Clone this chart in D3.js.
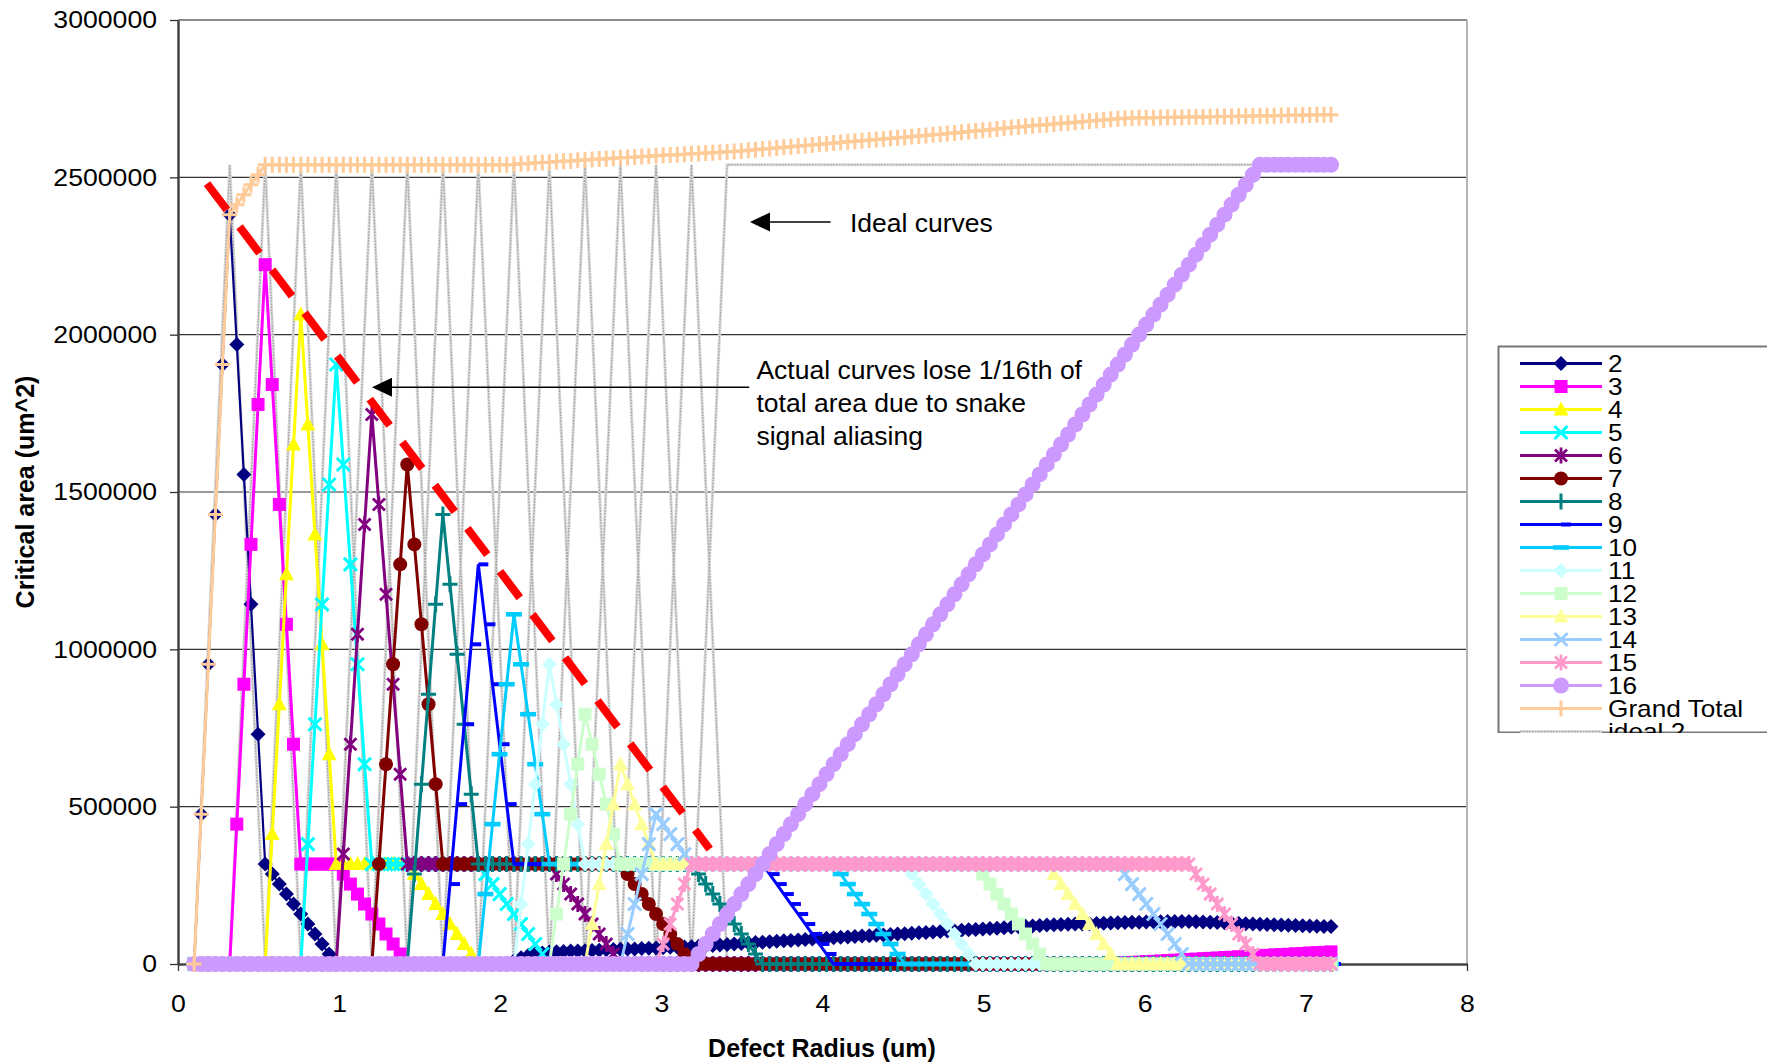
<!DOCTYPE html>
<html>
<head>
<meta charset="utf-8">
<script src="https://cdn.jsdelivr.net/npm/d3@7/dist/d3.min.js"></script>
<style>
  body { margin: 0; background: #fff; }
  svg { display: block; font-family: "Liberation Sans", Arial, sans-serif; }
</style>
</head>
<body>
<div id="chart"></div>
<script>
// Defect radius (um) for every sample point
const radius = [
  0.100, 0.144, 0.188, 0.232, 0.276, 0.321, 0.365, 0.409, 0.453, 0.497,
  0.541, 0.585, 0.629, 0.673, 0.717, 0.762, 0.806, 0.850, 0.894, 0.938,
  0.982, 1.026, 1.070, 1.114, 1.158, 1.203, 1.247, 1.291, 1.335, 1.379,
  1.423, 1.467, 1.511, 1.555, 1.599, 1.644, 1.688, 1.732, 1.776, 1.820,
  1.864, 1.908, 1.952, 1.996, 2.040, 2.085, 2.129, 2.173, 2.217, 2.261,
  2.305, 2.349, 2.393, 2.437, 2.481, 2.526, 2.570, 2.614, 2.658, 2.702,
  2.746, 2.790, 2.834, 2.878, 2.922, 2.967, 3.011, 3.055, 3.099, 3.143,
  3.187, 3.231, 3.275, 3.319, 3.363, 3.408, 3.452, 3.496, 3.540, 3.584,
  3.628, 3.672, 3.716, 3.760, 3.804, 3.849, 3.893, 3.937, 3.981, 4.025,
  4.069, 4.113, 4.157, 4.201, 4.245, 4.290, 4.334, 4.378, 4.422, 4.466,
  4.510, 4.554, 4.598, 4.642, 4.686, 4.731, 4.775, 4.819, 4.863, 4.907,
  4.951, 4.995, 5.039, 5.083, 5.127, 5.172, 5.216, 5.260, 5.304, 5.348,
  5.392, 5.436, 5.480, 5.524, 5.568, 5.613, 5.657, 5.701, 5.745, 5.789,
  5.833, 5.877, 5.921, 5.965, 6.009, 6.054, 6.098, 6.142, 6.186, 6.230,
  6.274, 6.318, 6.362, 6.406, 6.450, 6.495, 6.539, 6.583, 6.627, 6.671,
  6.715, 6.759, 6.803, 6.847, 6.891, 6.936, 6.980, 7.024, 7.068, 7.112,
  7.156
];

// Critical area (um^2) per series, one row = 10 samples
const s2 = [
  0, 476250, 952500, 1428750, 1905000, 2381250, 1968500, 1555750, 1143000, 730250,
  317500, 285750, 254000, 222250, 190500, 158750, 127000, 95250, 63500, 31750,
  0, 0, 0, 0, 0, 0, 0, 0, 0, 0,
  0, 0, 0, 0, 0, 0, 0, 0, 0, 0,
  0, 0, 0, 0, 0, 10000, 20000, 27000, 32000, 35000,
  38000, 39000, 40000, 41000, 41500, 42000, 43000, 44000, 45000, 46000,
  47000, 47500, 48000, 49000, 50000, 51000, 52000, 53000, 53500, 54000,
  55000, 56500, 58000, 59000, 60500, 62000, 63500, 65000, 66500, 68000,
  69000, 70500, 72000, 73500, 75000, 76500, 78000, 79500, 80500, 82000,
  83500, 85000, 86000, 87500, 89000, 90000, 91500, 92500, 94000, 95000,
  96500, 98000, 99000, 100500, 101500, 103000, 104500, 106000, 107000, 108500,
  110000, 111500, 113000, 114000, 115500, 117000, 118500, 120000, 121000, 122500,
  124000, 124500, 125500, 126000, 127000, 127500, 128000, 129000, 129500, 130000,
  131000, 131500, 132500, 133000, 133500, 134000, 134500, 135000, 135000, 135000,
  135000, 134000, 133500, 132500, 131500, 131000, 130000, 129000, 128000, 127500,
  126500, 125500, 125000, 124000, 123000, 122500, 121500, 121000, 120000, 119500,
  119000
];
const s3 = [
  0, 0, 0, 0, 0, 0, 444500, 889000, 1333500, 1778000,
  2222500, 1841500, 1460500, 1079500, 698500, 317500, 317500, 317500, 317500, 317500,
  317500, 285750, 254000, 222250, 190500, 158750, 127000, 95250, 63500, 31750,
  0, 0, 0, 0, 0, 0, 0, 0, 0, 0,
  0, 0, 0, 0, 0, 0, 0, 0, 0, 0,
  0, 0, 0, 0, 0, 0, 0, 0, 0, 0,
  0, 0, 0, 0, 0, 0, 0, 0, 0, 0,
  0, 0, 0, 0, 0, 0, 0, 0, 0, 0,
  0, 0, 0, 0, 0, 0, 0, 0, 0, 0,
  0, 0, 0, 0, 0, 0, 0, 0, 0, 0,
  0, 0, 0, 0, 0, 0, 0, 0, 0, 0,
  0, 0, 0, 0, 0, 0, 0, 0, 0, 0,
  0, 0, 0, 0, 0, 0, 0, 0, 0, 1000,
  2500, 3500, 5000, 6000, 7500, 8500, 9500, 11000, 12000, 13000,
  14500, 15500, 17000, 18000, 19000, 20500, 21500, 23000, 24000, 25000,
  26500, 27500, 29000, 30000, 31000, 32500, 33500, 35000, 36000, 37000,
  38500
];
const s4 = [
  0, 0, 0, 0, 0, 0, 0, 0, 0, 0,
  0, 412750, 825500, 1238250, 1651000, 2063750, 1714500, 1365250, 1016000, 666750,
  317500, 317500, 317500, 317500, 317500, 317500, 317500, 317500, 317500, 317500,
  317500, 285750, 254000, 222250, 190500, 158750, 127000, 95250, 63500, 31750,
  0, 0, 0, 0, 0, 0, 0, 0, 0, 0,
  0, 0, 0, 0, 0, 0, 0, 0, 0, 0,
  0, 0, 0, 0, 0, 0, 0, 0, 0, 0,
  0, 0, 0, 0, 0, 0, 0, 0, 0, 0,
  0, 0, 0, 0, 0, 0, 0, 0, 0, 0,
  0, 0, 0, 0, 0, 0, 0, 0, 0, 0,
  0, 0, 0, 0, 0, 0, 0, 0, 0, 0,
  0, 0, 0, 0, 0, 0, 0, 0, 0, 0,
  0, 0, 0, 0, 0, 0, 0, 0, 0, 0,
  0, 0, 0, 0, 0, 0, 0, 0, 0, 0,
  0, 0, 0, 0, 0, 0, 0, 0, 0, 0,
  0, 0, 0, 0, 0, 0, 0, 0, 0, 0,
  0
];
const s5 = [
  0, 0, 0, 0, 0, 0, 0, 0, 0, 0,
  0, 0, 0, 0, 0, 0, 381000, 762000, 1143000, 1524000,
  1905000, 1587500, 1270000, 952500, 635000, 317500, 317500, 317500, 317500, 317500,
  317500, 317500, 317500, 317500, 317500, 317500, 317500, 317500, 317500, 317500,
  317500, 285750, 254000, 222250, 190500, 158750, 127000, 95250, 63500, 31750,
  0, 0, 0, 0, 0, 0, 0, 0, 0, 0,
  0, 0, 0, 0, 0, 0, 0, 0, 0, 0,
  0, 0, 0, 0, 0, 0, 0, 0, 0, 0,
  0, 0, 0, 0, 0, 0, 0, 0, 0, 0,
  0, 0, 0, 0, 0, 0, 0, 0, 0, 0,
  0, 0, 0, 0, 0, 0, 0, 0, 0, 0,
  0, 0, 0, 0, 0, 0, 0, 0, 0, 0,
  0, 0, 0, 0, 0, 0, 0, 0, 0, 0,
  0, 0, 0, 0, 0, 0, 0, 0, 0, 0,
  0, 0, 0, 0, 0, 0, 0, 0, 0, 0,
  0, 0, 0, 0, 0, 0, 0, 0, 0, 0,
  0
];
const s6 = [
  0, 0, 0, 0, 0, 0, 0, 0, 0, 0,
  0, 0, 0, 0, 0, 0, 0, 0, 0, 0,
  0, 349250, 698500, 1047750, 1397000, 1746250, 1460500, 1174750, 889000, 603250,
  317500, 317500, 317500, 317500, 317500, 317500, 317500, 317500, 317500, 317500,
  317500, 317500, 317500, 317500, 317500, 317500, 317500, 317500, 317500, 317500,
  317500, 285750, 254000, 222250, 190500, 158750, 127000, 95250, 63500, 31750,
  0, 0, 0, 0, 0, 0, 0, 0, 0, 0,
  0, 0, 0, 0, 0, 0, 0, 0, 0, 0,
  0, 0, 0, 0, 0, 0, 0, 0, 0, 0,
  0, 0, 0, 0, 0, 0, 0, 0, 0, 0,
  0, 0, 0, 0, 0, 0, 0, 0, 0, 0,
  0, 0, 0, 0, 0, 0, 0, 0, 0, 0,
  0, 0, 0, 0, 0, 0, 0, 0, 0, 0,
  0, 0, 0, 0, 0, 0, 0, 0, 0, 0,
  0, 0, 0, 0, 0, 0, 0, 0, 0, 0,
  0, 0, 0, 0, 0, 0, 0, 0, 0, 0,
  0
];
const s7 = [
  0, 0, 0, 0, 0, 0, 0, 0, 0, 0,
  0, 0, 0, 0, 0, 0, 0, 0, 0, 0,
  0, 0, 0, 0, 0, 0, 317500, 635000, 952500, 1270000,
  1587500, 1333500, 1079500, 825500, 571500, 317500, 317500, 317500, 317500, 317500,
  317500, 317500, 317500, 317500, 317500, 317500, 317500, 317500, 317500, 317500,
  317500, 317500, 317500, 317500, 317500, 317500, 317500, 317500, 317500, 317500,
  317500, 285750, 254000, 222250, 190500, 158750, 127000, 95250, 63500, 31750,
  0, 0, 0, 0, 0, 0, 0, 0, 0, 0,
  0, 0, 0, 0, 0, 0, 0, 0, 0, 0,
  0, 0, 0, 0, 0, 0, 0, 0, 0, 0,
  0, 0, 0, 0, 0, 0, 0, 0, 0, 0,
  0, 0, 0, 0, 0, 0, 0, 0, 0, 0,
  0, 0, 0, 0, 0, 0, 0, 0, 0, 0,
  0, 0, 0, 0, 0, 0, 0, 0, 0, 0,
  0, 0, 0, 0, 0, 0, 0, 0, 0, 0,
  0, 0, 0, 0, 0, 0, 0, 0, 0, 0,
  0
];
const s8 = [
  0, 0, 0, 0, 0, 0, 0, 0, 0, 0,
  0, 0, 0, 0, 0, 0, 0, 0, 0, 0,
  0, 0, 0, 0, 0, 0, 0, 0, 0, 0,
  0, 285750, 571500, 857250, 1143000, 1428750, 1206500, 984250, 762000, 539750,
  317500, 317500, 317500, 317500, 317500, 317500, 317500, 317500, 317500, 317500,
  317500, 317500, 317500, 317500, 317500, 317500, 317500, 317500, 317500, 317500,
  317500, 317500, 317500, 317500, 317500, 317500, 317500, 317500, 317500, 317500,
  317500, 285750, 254000, 222250, 190500, 158750, 127000, 95250, 63500, 31750,
  0, 0, 0, 0, 0, 0, 0, 0, 0, 0,
  0, 0, 0, 0, 0, 0, 0, 0, 0, 0,
  0, 0, 0, 0, 0, 0, 0, 0, 0, 0,
  0, 0, 0, 0, 0, 0, 0, 0, 0, 0,
  0, 0, 0, 0, 0, 0, 0, 0, 0, 0,
  0, 0, 0, 0, 0, 0, 0, 0, 0, 0,
  0, 0, 0, 0, 0, 0, 0, 0, 0, 0,
  0, 0, 0, 0, 0, 0, 0, 0, 0, 0,
  0
];
const s9 = [
  0, 0, 0, 0, 0, 0, 0, 0, 0, 0,
  0, 0, 0, 0, 0, 0, 0, 0, 0, 0,
  0, 0, 0, 0, 0, 0, 0, 0, 0, 0,
  0, 0, 0, 0, 0, 0, 254000, 508000, 762000, 1016000,
  1270000, 1079500, 889000, 698500, 508000, 317500, 317500, 317500, 317500, 317500,
  317500, 317500, 317500, 317500, 317500, 317500, 317500, 317500, 317500, 317500,
  317500, 317500, 317500, 317500, 317500, 317500, 317500, 317500, 317500, 317500,
  317500, 317500, 317500, 317500, 317500, 317500, 317500, 317500, 317500, 317500,
  317500, 285750, 254000, 222250, 190500, 158750, 127000, 95250, 63500, 31750,
  0, 0, 0, 0, 0, 0, 0, 0, 0, 0,
  0, 0, 0, 0, 0, 0, 0, 0, 0, 0,
  0, 0, 0, 0, 0, 0, 0, 0, 0, 0,
  0, 0, 0, 0, 0, 0, 0, 0, 0, 0,
  0, 0, 0, 0, 0, 0, 0, 0, 0, 0,
  0, 0, 0, 0, 0, 0, 0, 0, 0, 0,
  0, 0, 0, 0, 0, 0, 0, 0, 0, 0,
  0
];
const s10 = [
  0, 0, 0, 0, 0, 0, 0, 0, 0, 0,
  0, 0, 0, 0, 0, 0, 0, 0, 0, 0,
  0, 0, 0, 0, 0, 0, 0, 0, 0, 0,
  0, 0, 0, 0, 0, 0, 0, 0, 0, 0,
  0, 222250, 444500, 666750, 889000, 1111250, 952500, 793750, 635000, 476250,
  317500, 317500, 317500, 317500, 317500, 317500, 317500, 317500, 317500, 317500,
  317500, 317500, 317500, 317500, 317500, 317500, 317500, 317500, 317500, 317500,
  317500, 317500, 317500, 317500, 317500, 317500, 317500, 317500, 317500, 317500,
  317500, 317500, 317500, 317500, 317500, 317500, 317500, 317500, 317500, 317500,
  317500, 285750, 254000, 222250, 190500, 158750, 127000, 95250, 63500, 31750,
  0, 0, 0, 0, 0, 0, 0, 0, 0, 0,
  0, 0, 0, 0, 0, 0, 0, 0, 0, 0,
  0, 0, 0, 0, 0, 0, 0, 0, 0, 0,
  0, 0, 0, 0, 0, 0, 0, 0, 0, 0,
  0, 0, 0, 0, 0, 0, 0, 0, 0, 0,
  0, 0, 0, 0, 0, 0, 0, 0, 0, 0,
  0
];
const s11 = [
  0, 0, 0, 0, 0, 0, 0, 0, 0, 0,
  0, 0, 0, 0, 0, 0, 0, 0, 0, 0,
  0, 0, 0, 0, 0, 0, 0, 0, 0, 0,
  0, 0, 0, 0, 0, 0, 0, 0, 0, 0,
  0, 0, 0, 0, 0, 0, 190500, 381000, 571500, 762000,
  952500, 825500, 698500, 571500, 444500, 317500, 317500, 317500, 317500, 317500,
  317500, 317500, 317500, 317500, 317500, 317500, 317500, 317500, 317500, 317500,
  317500, 317500, 317500, 317500, 317500, 317500, 317500, 317500, 317500, 317500,
  317500, 317500, 317500, 317500, 317500, 317500, 317500, 317500, 317500, 317500,
  317500, 317500, 317500, 317500, 317500, 317500, 317500, 317500, 317500, 317500,
  317500, 285750, 254000, 222250, 190500, 158750, 127000, 95250, 63500, 31750,
  0, 0, 0, 0, 0, 0, 0, 0, 0, 0,
  0, 0, 0, 0, 0, 0, 0, 0, 0, 0,
  0, 0, 0, 0, 0, 0, 0, 0, 0, 0,
  0, 0, 0, 0, 0, 0, 0, 0, 0, 0,
  0, 0, 0, 0, 0, 0, 0, 0, 0, 0,
  0
];
const s12 = [
  0, 0, 0, 0, 0, 0, 0, 0, 0, 0,
  0, 0, 0, 0, 0, 0, 0, 0, 0, 0,
  0, 0, 0, 0, 0, 0, 0, 0, 0, 0,
  0, 0, 0, 0, 0, 0, 0, 0, 0, 0,
  0, 0, 0, 0, 0, 0, 0, 0, 0, 0,
  0, 158750, 317500, 476250, 635000, 793750, 698500, 603250, 508000, 412750,
  317500, 317500, 317500, 317500, 317500, 317500, 317500, 317500, 317500, 317500,
  317500, 317500, 317500, 317500, 317500, 317500, 317500, 317500, 317500, 317500,
  317500, 317500, 317500, 317500, 317500, 317500, 317500, 317500, 317500, 317500,
  317500, 317500, 317500, 317500, 317500, 317500, 317500, 317500, 317500, 317500,
  317500, 317500, 317500, 317500, 317500, 317500, 317500, 317500, 317500, 317500,
  317500, 285750, 254000, 222250, 190500, 158750, 127000, 95250, 63500, 31750,
  0, 0, 0, 0, 0, 0, 0, 0, 0, 0,
  0, 0, 0, 0, 0, 0, 0, 0, 0, 0,
  0, 0, 0, 0, 0, 0, 0, 0, 0, 0,
  0, 0, 0, 0, 0, 0, 0, 0, 0, 0,
  0
];
const s13 = [
  0, 0, 0, 0, 0, 0, 0, 0, 0, 0,
  0, 0, 0, 0, 0, 0, 0, 0, 0, 0,
  0, 0, 0, 0, 0, 0, 0, 0, 0, 0,
  0, 0, 0, 0, 0, 0, 0, 0, 0, 0,
  0, 0, 0, 0, 0, 0, 0, 0, 0, 0,
  0, 0, 0, 0, 0, 0, 127000, 254000, 381000, 508000,
  635000, 571500, 508000, 444500, 381000, 317500, 317500, 317500, 317500, 317500,
  317500, 317500, 317500, 317500, 317500, 317500, 317500, 317500, 317500, 317500,
  317500, 317500, 317500, 317500, 317500, 317500, 317500, 317500, 317500, 317500,
  317500, 317500, 317500, 317500, 317500, 317500, 317500, 317500, 317500, 317500,
  317500, 317500, 317500, 317500, 317500, 317500, 317500, 317500, 317500, 317500,
  317500, 317500, 317500, 317500, 317500, 317500, 317500, 317500, 317500, 317500,
  317500, 285750, 254000, 222250, 190500, 158750, 127000, 95250, 63500, 31750,
  0, 0, 0, 0, 0, 0, 0, 0, 0, 0,
  0, 0, 0, 0, 0, 0, 0, 0, 0, 0,
  0, 0, 0, 0, 0, 0, 0, 0, 0, 0,
  0
];
const s14 = [
  0, 0, 0, 0, 0, 0, 0, 0, 0, 0,
  0, 0, 0, 0, 0, 0, 0, 0, 0, 0,
  0, 0, 0, 0, 0, 0, 0, 0, 0, 0,
  0, 0, 0, 0, 0, 0, 0, 0, 0, 0,
  0, 0, 0, 0, 0, 0, 0, 0, 0, 0,
  0, 0, 0, 0, 0, 0, 0, 0, 0, 0,
  0, 95250, 190500, 285750, 381000, 476250, 444500, 412750, 381000, 349250,
  317500, 317500, 317500, 317500, 317500, 317500, 317500, 317500, 317500, 317500,
  317500, 317500, 317500, 317500, 317500, 317500, 317500, 317500, 317500, 317500,
  317500, 317500, 317500, 317500, 317500, 317500, 317500, 317500, 317500, 317500,
  317500, 317500, 317500, 317500, 317500, 317500, 317500, 317500, 317500, 317500,
  317500, 317500, 317500, 317500, 317500, 317500, 317500, 317500, 317500, 317500,
  317500, 317500, 317500, 317500, 317500, 317500, 317500, 317500, 317500, 317500,
  317500, 285750, 254000, 222250, 190500, 158750, 127000, 95250, 63500, 31750,
  0, 0, 0, 0, 0, 0, 0, 0, 0, 0,
  0, 0, 0, 0, 0, 0, 0, 0, 0, 0,
  0
];
const s15 = [
  0, 0, 0, 0, 0, 0, 0, 0, 0, 0,
  0, 0, 0, 0, 0, 0, 0, 0, 0, 0,
  0, 0, 0, 0, 0, 0, 0, 0, 0, 0,
  0, 0, 0, 0, 0, 0, 0, 0, 0, 0,
  0, 0, 0, 0, 0, 0, 0, 0, 0, 0,
  0, 0, 0, 0, 0, 0, 0, 0, 0, 0,
  0, 0, 0, 0, 0, 0, 63500, 127000, 190500, 254000,
  317500, 317500, 317500, 317500, 317500, 317500, 317500, 317500, 317500, 317500,
  317500, 317500, 317500, 317500, 317500, 317500, 317500, 317500, 317500, 317500,
  317500, 317500, 317500, 317500, 317500, 317500, 317500, 317500, 317500, 317500,
  317500, 317500, 317500, 317500, 317500, 317500, 317500, 317500, 317500, 317500,
  317500, 317500, 317500, 317500, 317500, 317500, 317500, 317500, 317500, 317500,
  317500, 317500, 317500, 317500, 317500, 317500, 317500, 317500, 317500, 317500,
  317500, 317500, 317500, 317500, 317500, 317500, 317500, 317500, 317500, 317500,
  317500, 285750, 254000, 222250, 190500, 158750, 127000, 95250, 63500, 31750,
  0, 0, 0, 0, 0, 0, 0, 0, 0, 0,
  0
];
const s16 = [
  0, 0, 0, 0, 0, 0, 0, 0, 0, 0,
  0, 0, 0, 0, 0, 0, 0, 0, 0, 0,
  0, 0, 0, 0, 0, 0, 0, 0, 0, 0,
  0, 0, 0, 0, 0, 0, 0, 0, 0, 0,
  0, 0, 0, 0, 0, 0, 0, 0, 0, 0,
  0, 0, 0, 0, 0, 0, 0, 0, 0, 0,
  0, 0, 0, 0, 0, 0, 0, 0, 0, 0,
  0, 31750, 63500, 95250, 127000, 158750, 190500, 222250, 254000, 285750,
  317500, 349250, 381000, 412750, 444500, 476250, 508000, 539750, 571500, 603250,
  635000, 666750, 698500, 730250, 762000, 793750, 825500, 857250, 889000, 920750,
  952500, 984250, 1016000, 1047750, 1079500, 1111250, 1143000, 1174750, 1206500, 1238250,
  1270000, 1301750, 1333500, 1365250, 1397000, 1428750, 1460500, 1492250, 1524000, 1555750,
  1587500, 1619250, 1651000, 1682750, 1714500, 1746250, 1778000, 1809750, 1841500, 1873250,
  1905000, 1936750, 1968500, 2000250, 2032000, 2063750, 2095500, 2127250, 2159000, 2190750,
  2222500, 2254250, 2286000, 2317750, 2349500, 2381250, 2413000, 2444750, 2476500, 2508250,
  2540000, 2540000, 2540000, 2540000, 2540000, 2540000, 2540000, 2540000, 2540000, 2540000,
  2540000
];
const grandTotal = [
  0, 476250, 952500, 1428750, 1905000, 2381250, 2413000, 2444750, 2476500, 2508250,
  2540000, 2540000, 2540000, 2540000, 2540000, 2540000, 2540000, 2540000, 2540000, 2540000,
  2540000, 2540000, 2540000, 2540000, 2540000, 2540000, 2540000, 2540000, 2540000, 2540000,
  2540000, 2540000, 2540000, 2540000, 2540000, 2540000, 2540000, 2540000, 2540000, 2540000,
  2540000, 2540000, 2540000, 2540000, 2540000, 2541000, 2543000, 2544000, 2546000, 2547000,
  2548000, 2550000, 2551000, 2552000, 2554000, 2555000, 2557000, 2558000, 2559000, 2561000,
  2562000, 2563000, 2565000, 2566000, 2567000, 2568500, 2570000, 2571000, 2572000, 2573500,
  2575000, 2576000, 2577000, 2578500, 2580000, 2581000, 2582000, 2584000, 2586000, 2588000,
  2590000, 2592000, 2593500, 2595500, 2597500, 2599500, 2601500, 2603000, 2605000, 2607000,
  2609000, 2611000, 2613000, 2614500, 2616500, 2618500, 2620000, 2622000, 2624000, 2626000,
  2627500, 2629500, 2631500, 2633000, 2635000, 2637000, 2639000, 2641000, 2643500, 2645500,
  2647500, 2649500, 2651500, 2653500, 2656000, 2658000, 2660000, 2662000, 2664000, 2666000,
  2667500, 2669500, 2671500, 2673000, 2675000, 2677000, 2679000, 2680500, 2682500, 2684500,
  2686000, 2688000, 2688500, 2689000, 2689000, 2689500, 2690000, 2690500, 2691000, 2691000,
  2691500, 2692000, 2692000, 2692500, 2693000, 2693000, 2693500, 2694000, 2694500, 2695000,
  2695500, 2695500, 2696000, 2696500, 2697000, 2697500, 2697500, 2698000, 2698500, 2699000,
  2699000
];

// Ideal (triangular) critical area curves: [radius, area] corner points
const idealCurves = [
  [[0.100, 0], [0.321, 2540000], [0.541, 0]],
  [[0.321, 0], [0.541, 2540000], [0.762, 0]],
  [[0.541, 0], [0.762, 2540000], [0.982, 0]],
  [[0.762, 0], [0.982, 2540000], [1.203, 0]],
  [[0.982, 0], [1.203, 2540000], [1.423, 0]],
  [[1.203, 0], [1.423, 2540000], [1.644, 0]],
  [[1.423, 0], [1.644, 2540000], [1.864, 0]],
  [[1.644, 0], [1.864, 2540000], [2.085, 0]],
  [[1.864, 0], [2.085, 2540000], [2.305, 0]],
  [[2.085, 0], [2.305, 2540000], [2.526, 0]],
  [[2.305, 0], [2.526, 2540000], [2.746, 0]],
  [[2.526, 0], [2.746, 2540000], [2.967, 0]],
  [[2.746, 0], [2.967, 2540000], [3.187, 0]],
  [[2.967, 0], [3.187, 2540000], [3.408, 0]],
  [[3.187, 0], [3.408, 2540000], [7.156, 2540000]]
];

// red dashed envelope drawn over the peaks
const envelope = [[0.18, 2480000], [3.30, 365000]];

const seriesNames = ["2", "3", "4", "5", "6", "7", "8", "9", "10", "11", "12", "13", "14", "15", "16", "Grand Total"];
const seriesValues = [s2, s3, s4, s5, s6, s7, s8, s9, s10, s11, s12, s13, s14, s15, s16, grandTotal];
const yTicks = [0, 500000, 1000000, 1500000, 2000000, 2500000, 3000000];
const xTicks = [0, 1, 2, 3, 4, 5, 6, 7, 8];

// styles
const seriesColors = ["#000080", "#FF00FF", "#FFFF00", "#00FFFF", "#800080", "#800000", "#008080", "#0000FF",
                      "#00CCFF", "#CCFFFF", "#CCFFCC", "#FFFF99", "#99CCFF", "#FF99CC", "#CC99FF", "#FFCC99"];
const seriesMarkers = ["diamond", "square", "triangle", "x", "star", "circle", "plus", "shortDash",
                       "longDash", "diamond", "square", "triangle", "x", "star", "bigCircle", "plus"];

let markerShapes = {
  diamond: {d: "M0,-7.5L7.5,0L0,7.5L-7.5,0Z", fill: true},
  square: {d: "M-6.5,-6.5H6.5V6.5H-6.5Z", fill: true},
  triangle: {d: "M0,-8L7.5,6L-7.5,6Z", fill: true},
  x: {d: "M-6.5,-6.5L6.5,6.5M-6.5,6.5L6.5,-6.5", fill: false, sw: 3},
  star: {d: "M-6,-6L6,6M-6,6L6,-6M0,-8L0,8", fill: false, sw: 2.8},
  circle: {d: d3.symbol(d3.symbolCircle, Math.PI * 7 * 7)(), fill: true},
  bigCircle: {d: d3.symbol(d3.symbolCircle, Math.PI * 8 * 8)(), fill: true},
  plus: {d: "M-7.5,0H7.5M0,-8V8", fill: false, sw: 3},
  shortDash: {d: "M0,-2H10V2H0Z", fill: true},
  longDash: {d: "M-8,-2.3H8V2.3H-8Z", fill: true}
};

let w = 1767,
    h = 1063;

let plot = {left: 178, right: 1467, top: 20, bottom: 964};

let x = d3.scaleLinear().domain([0, 8]).range([plot.left, plot.right]);
let y = d3.scaleLinear().domain([0, 3000000]).range([plot.bottom, plot.top]);

let svg = d3.select("#chart")
            .append("svg")
            .attr("width", w)
            .attr("height", h);

// gridlines
svg.append("g")
   .selectAll("line")
   .data(yTicks.slice(1, -1))
   .join("line")
   .attr("x1", x(0))
   .attr("x2", x(8))
   .attr("y1", d => y(d))
   .attr("y2", d => y(d))
   .attr("stroke", "#333")
   .attr("stroke-width", 1.2);

// top and right border of the plot area
svg.append("line")
   .attr("x1", x(0)).attr("x2", x(8))
   .attr("y1", y(3000000)).attr("y2", y(3000000))
   .attr("stroke", "#8c8c8c").attr("stroke-width", 2);
svg.append("line")
   .attr("x1", x(8)).attr("x2", x(8))
   .attr("y1", y(3000000)).attr("y2", y(0))
   .attr("stroke", "#b4b4b4").attr("stroke-width", 2);

// axes
let yAxis = d3.axisLeft(y)
              .tickValues(yTicks)
              .tickSize(8)
              .tickSizeOuter(0)
              .tickPadding(13)
              .tickFormat(d3.format("d"));

let gy = svg.append("g")
            .attr("transform", `translate(${x(0)},0)`)
            .call(yAxis);

let xAxis = d3.axisBottom(x)
              .tickValues(xTicks)
              .tickSize(7)
              .tickSizeOuter(0)
              .tickPadding(24)
              .tickFormat(d3.format("d"));

let gx = svg.append("g")
            .attr("transform", `translate(0,${y(0)})`)
            .call(xAxis);

// the tick labels of the original are a little wider than plain Arial
let stretch = 1.11;

[gx, gy].forEach(g => {
  g.attr("font-family", null).attr("font-size", null);
  g.select(".domain").attr("stroke", "#444").attr("stroke-width", 2.5);
  g.selectAll(".tick line").attr("stroke", "#333").attr("stroke-width", 1.3);
  g.selectAll(".tick text").attr("font-size", 24).attr("fill", "#000");
});

gy.selectAll(".tick text")
  .attr("x", -21 / stretch)
  .attr("transform", `scale(${stretch},1)`);
gx.selectAll(".tick text")
  .attr("transform", `scale(${stretch},1)`);

// axis titles
svg.append("text")
   .attr("x", 822)
   .attr("y", 1048)
   .attr("dy", "0.35em")
   .attr("text-anchor", "middle")
   .attr("font-weight", "bold")
   .attr("font-size", 25)
   .text("Defect Radius (um)");

svg.append("text")
   .attr("transform", "translate(25,492) rotate(-90)")
   .attr("dy", "0.35em")
   .attr("text-anchor", "middle")
   .attr("font-weight", "bold")
   .attr("font-size", 25)
   .text("Critical area (um^2)");

// ideal curves (grey dotted), behind everything else
let idealLine = d3.line().x(d => x(d[0])).y(d => y(d[1]));

let idealG = svg.append("g");
idealG.selectAll("path.ideal-base")
      .data(idealCurves)
      .join("path")
      .attr("class", "ideal-base")
      .attr("d", idealLine)
      .attr("fill", "none")
      .attr("stroke", "#dadada")
      .attr("stroke-width", 3);
idealG.selectAll("path.ideal-dot")
      .data(idealCurves)
      .join("path")
      .attr("class", "ideal-dot")
      .attr("d", idealLine)
      .attr("fill", "none")
      .attr("stroke", "#9a9a9a")
      .attr("stroke-width", 1.1)
      .attr("stroke-dasharray", "1.5 1.5");

// the actual curves + grand total
let seriesLine = d3.line()
                   .x((d, i) => x(radius[i]))
                   .y(d => y(d));

seriesValues.forEach((vals, k) => {
  let color = seriesColors[k];
  let shape = markerShapes[seriesMarkers[k]];
  let g = svg.append("g").attr("class", "series");

  g.append("path")
   .datum(vals)
   .attr("d", seriesLine)
   .attr("fill", "none")
   .attr("stroke", color)
   .attr("stroke-width", k === 0 ? 2.2 : 3);

  g.selectAll("path.marker")
   .data(vals)
   .join("path")
   .attr("class", "marker")
   .attr("transform", (d, i) => `translate(${x(radius[i])},${y(d)})`)
   .attr("d", shape.d)
   .attr("fill", shape.fill ? color : "none")
   .attr("stroke", shape.fill ? "none" : color)
   .attr("stroke-width", shape.sw || 0);
});

// red dashed envelope
svg.append("line")
   .attr("x1", x(envelope[0][0]))
   .attr("y1", y(envelope[0][1]))
   .attr("x2", x(envelope[1][0]))
   .attr("y2", y(envelope[1][1]))
   .attr("stroke", "#FF0000")
   .attr("stroke-width", 8)
   .attr("stroke-dasharray", "33 21");

// annotations with arrows
let annotations = [
  {lines: ["Ideal curves"], x: 4.17, y: 2355000, from: 4.05, to: 3.55, arrowY: 2358000},
  {lines: ["Actual curves lose 1/16th of", "total area due to snake", "signal aliasing"],
   x: 3.59, y: 1888000, from: 3.545, to: 1.204, arrowY: 1833000}
];

annotations.forEach(a => {
  let ay = y(a.arrowY);
  svg.append("line")
     .attr("x1", x(a.from)).attr("x2", x(a.to) + 18)
     .attr("y1", ay).attr("y2", ay)
     .attr("stroke", "#000").attr("stroke-width", 1.6);
  svg.append("path")
     .attr("d", `M${x(a.to)},${ay}L${x(a.to) + 20},${ay - 9.5}L${x(a.to) + 20},${ay + 9.5}Z`)
     .attr("fill", "#000");

  svg.append("g")
     .selectAll("text")
     .data(a.lines)
     .join("text")
     .attr("x", x(a.x))
     .attr("y", (d, i) => y(a.y) + i * 32.7)
     .attr("dy", "0.35em")
     .attr("font-size", 26.5)
     .text(d => d);
});

// legend (box runs off the right edge and is cut at the bottom)
let legendNames = seriesNames.concat(["ideal 2"]);

svg.append("clipPath")
   .attr("id", "legend-clip")
   .append("rect")
   .attr("x", 1497).attr("y", 345)
   .attr("width", 272).attr("height", 388);

let legend = svg.append("g").attr("clip-path", "url(#legend-clip)");

legend.append("rect")
      .attr("x", 1498.5).attr("y", 346.5)
      .attr("width", 300).attr("height", 386)
      .attr("fill", "#fff")
      .attr("stroke", "#777")
      .attr("stroke-width", 2);

let entries = legend.selectAll("g.entry")
                    .data(legendNames)
                    .join("g")
                    .attr("class", "entry")
                    .attr("transform", (d, i) => `translate(0,${363.5 + i * 23})`);

entries.each(function (name, i) {
  let e = d3.select(this);
  if (i < seriesNames.length) {
    let shape = markerShapes[seriesMarkers[i]];
    e.append("line")
     .attr("x1", 1520).attr("x2", 1602)
     .attr("stroke", seriesColors[i])
     .attr("stroke-width", 3);
    e.append("path")
     .attr("transform", "translate(1561,0)")
     .attr("d", shape.d)
     .attr("fill", shape.fill ? seriesColors[i] : "none")
     .attr("stroke", shape.fill ? "none" : seriesColors[i])
     .attr("stroke-width", shape.sw || 0);
  } else {
    e.append("line")
     .attr("x1", 1520).attr("x2", 1602)
     .attr("stroke", "#dadada").attr("stroke-width", 3);
    e.append("line")
     .attr("x1", 1520).attr("x2", 1602)
     .attr("stroke", "#9a9a9a").attr("stroke-width", 1.1)
     .attr("stroke-dasharray", "1.5 1.5");
  }
  e.append("text")
   .attr("transform", "translate(1608,0) scale(1.14,1)")
   .attr("dy", "0.35em")
   .attr("font-size", 23)
   .text(name);
});
</script>
</body>
</html>
